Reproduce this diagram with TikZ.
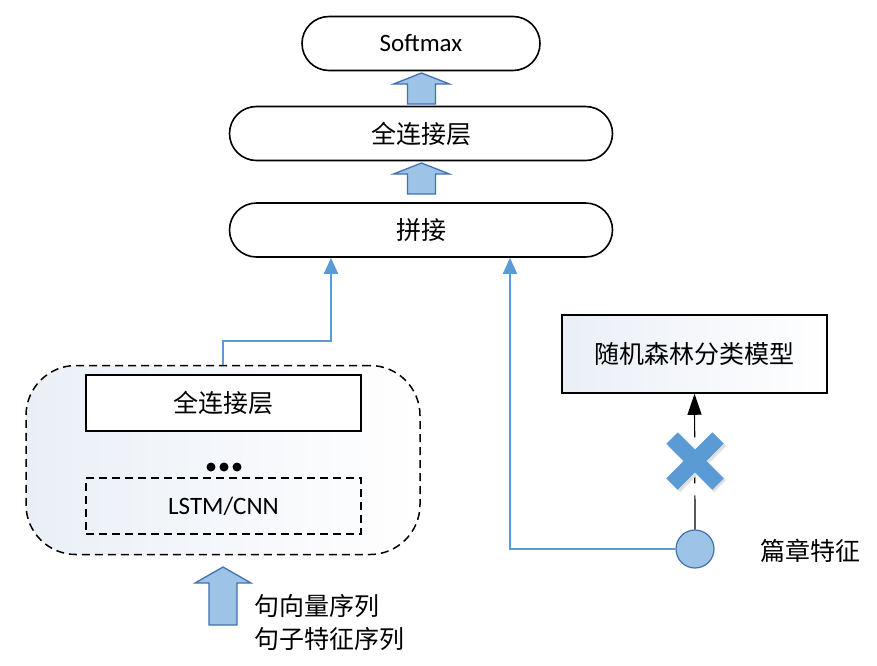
\documentclass[tikz,border=0pt]{standalone}
\usepackage{fontspec}
\setmainfont{Carlito}
\newfontfamily\cjk{Noto Sans CJK SC}
\usetikzlibrary{arrows.meta,positioning,calc}

\definecolor{linkblue}{RGB}{91,155,213}
\definecolor{arrowfill}{RGB}{157,195,230}
\definecolor{arrowline}{RGB}{65,113,176}
\definecolor{panelfill}{RGB}{234,239,247}

\tikzset{
  textfont/.style={font=\cjk\fontsize{25}{33}\selectfont},
  pill/.style={draw, line width=1.6pt, rounded corners=27pt, minimum width=383pt,
    minimum height=54pt, textfont},
  layerbox/.style={draw, line width=1.5pt, minimum width=275pt, minimum height=56pt, textfont},
  modelbox/.style={layerbox, minimum width=265pt, minimum height=78pt,
    left color=panelfill, right color=white},
  encbox/.style={draw, line width=1.5pt, dash pattern=on 8pt off 5pt, rounded corners=50pt,
    minimum width=394pt, minimum height=189pt, left color=panelfill, right color=white},
  link/.style={draw=linkblue, line width=1.8pt, -{Triangle[length=16pt,width=14pt]}},
  blockarrow/.style={draw=arrowline, fill=arrowfill, line width=1.3pt, line join=miter},
  pics/blockup/.style args={#1/#2}{code={
    \draw[blockarrow] (-14,#1) -- (-14,-#1+#2) -- (-28,-#1+#2) -- (0,-#1)
      -- (28,-#1+#2) -- (14,-#1+#2) -- (14,#1) -- cycle;
  }}
}

\begin{document}
\begin{tikzpicture}[x=1pt, y=-1pt]
  \useasboundingbox (0,0) rectangle (877,665);

  % main column
  \node[pill, minimum width=238pt, font=\fontsize{25}{30}\selectfont] (softmax) at (421,43.5) {Softmax};
  \node[pill] (fc) at (421,133.5) {全连接层};
  \node[pill] (concat) at (421,230) {拼接};
  \pic at (421.5,88.5) {blockup=15.5/11};
  \pic at (421.5,178.5) {blockup=15.5/11};

  % sentence encoder
  \node[encbox] (enc) at (223,460) {};
  \node[layerbox, fill=white] (encfc) at (223.5,403) {全连接层};
  \node[layerbox, dash pattern=on 8pt off 5pt, minimum height=56pt,
    font=\fontsize{25}{30}\selectfont] (lstm) at (223.5,506) {LSTM/CNN};
  \foreach \dx in {-13,0,13}
    \fill (224+\dx,467) circle (4.5pt);
  \coordinate (dots) at (224,467);

  % input
  \pic at (223,596) {blockup=29/16};
  \node[textfont, anchor=west, align=left] (input) at (251,622) {句向量序列\\句子特征序列};

  % document feature
  \node[modelbox] (rf) at (694.5,354) {随机森林分类模型};
  \node[circle, draw=arrowline, fill=arrowfill, line width=1.2pt, minimum size=38pt,
    inner sep=0pt] (doc) at (695,549) {};
  \node[textfont, anchor=west] (doclabel) at (757,551) {篇章特征};

  % connectors
  \draw[link] (enc.north) -- ++(0,-24) -| ([xshift=-90pt]concat.south);
  \draw[link] (doc.west) -| ([xshift=89pt]concat.south);
  \draw[line width=1.2pt, dash pattern=on 34pt off 12pt,
    -{Triangle[length=21pt,width=14pt]}] (doc.north) -- (rf.south);

  % blocked path
  \draw[gray!25, line width=17pt] (674,440) -- (720,486) (674,486) -- (720,440);
  \draw[linkblue, line width=16pt] (672,438) -- (718,484) (672,484) -- (718,438);
\end{tikzpicture}
\end{document}
